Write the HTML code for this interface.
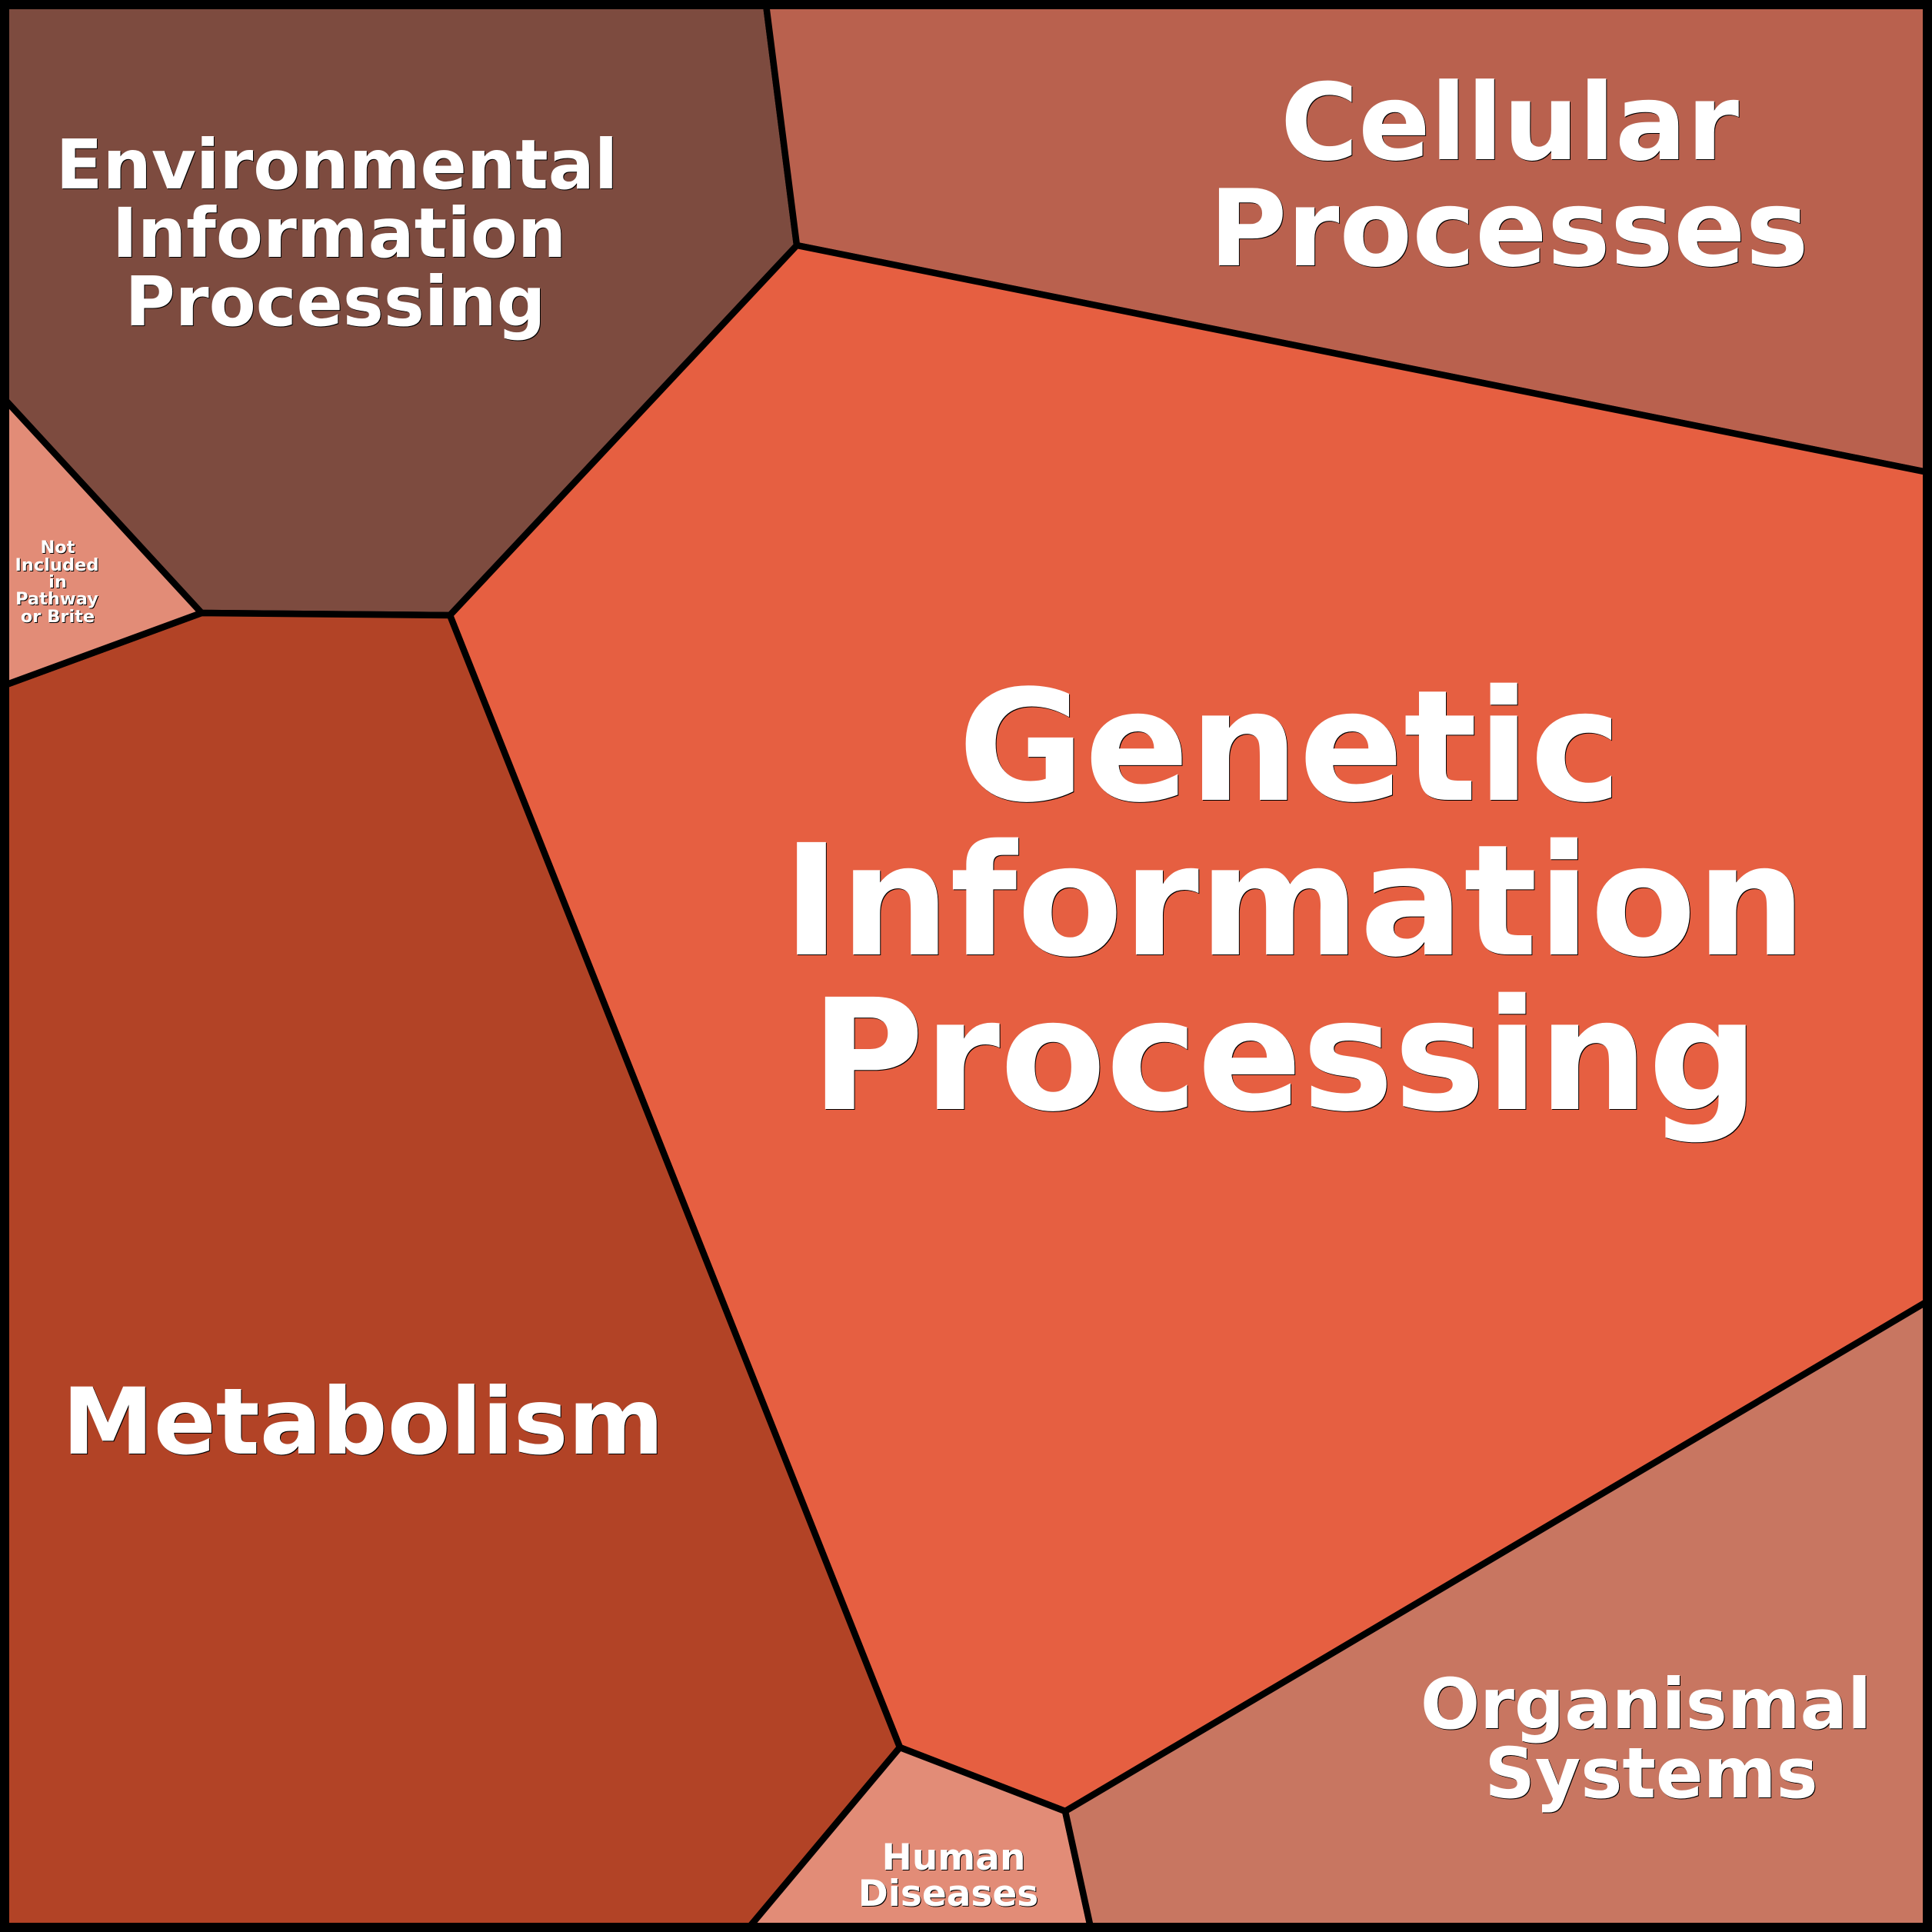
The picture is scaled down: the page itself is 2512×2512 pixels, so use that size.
<!DOCTYPE html>
<html><head><meta charset="utf-8"><style>
html,body{margin:0;padding:0;background:#000}
svg{display:block}
text{font-family:"DejaVu Sans",sans-serif;font-weight:bold;fill:#fff;text-anchor:middle}
.t{filter:drop-shadow(1.5px 1.5px 0 #000)}
</style></head><body>
<svg width="2512" height="2512" viewBox="0 0 2512 2512" xmlns="http://www.w3.org/2000/svg">
<g stroke="#000" stroke-width="8.5" stroke-linejoin="round">
<polygon fill="#7D4B3F" points="6,6 996,6 1036,319 585,800 262,797 6,519"/>
<polygon fill="#B9614E" points="996,6 2506,6 2506,614 1036,319"/>
<polygon fill="#E65F41" points="1036,319 2506,614 2506,1692 1385,2355 1170,2272 585,800"/>
<polygon fill="#B24326" points="6,891 262,797 585,800 1170,2272 974,2506 6,2506"/>
<polygon fill="#E28C77" points="6,519 262,797 6,891"/>
<polygon fill="#E28C77" points="1170,2272 1385,2355 1418,2506 974,2506"/>
<polygon fill="#C87661" points="1385,2355 2506,1692 2506,2506 1418,2506"/>
</g>
<rect x="6" y="6" width="2500" height="2500" rx="4" fill="none" stroke="#000" stroke-width="12"/>
<g class="t">
<text font-size="200.5" x="1677" y="1040">Genetic</text>
<text font-size="200.5" x="1683" y="1241">Information</text>
<text font-size="200.5" x="1670.5" y="1442">Processing</text>
<text font-size="138" x="1963" y="207">Cellular</text>
<text font-size="138" x="1962" y="345">Processes</text>
<text font-size="89" x="438" y="245">Environmental</text>
<text font-size="89" x="441" y="334">Information</text>
<text font-size="89" x="436" y="423">Processing</text>
<text font-size="119.4" x="472" y="1890">Metabolism</text>
<text font-size="91" x="2140" y="2247">Organismal</text>
<text font-size="91" x="2147" y="2337">Systems</text>
<text font-size="47" x="1240" y="2431">Human</text>
<text font-size="47" x="1233" y="2478">Diseases</text>
<text font-size="22.5" x="75" y="719">Not</text>
<text font-size="22.5" x="74" y="742">Included</text>
<text font-size="22.5" x="75" y="764">in</text>
<text font-size="22.5" x="74" y="786">Pathway</text>
<text font-size="22.5" x="75" y="809">or Brite</text>
</g>
</svg>
</body></html>
